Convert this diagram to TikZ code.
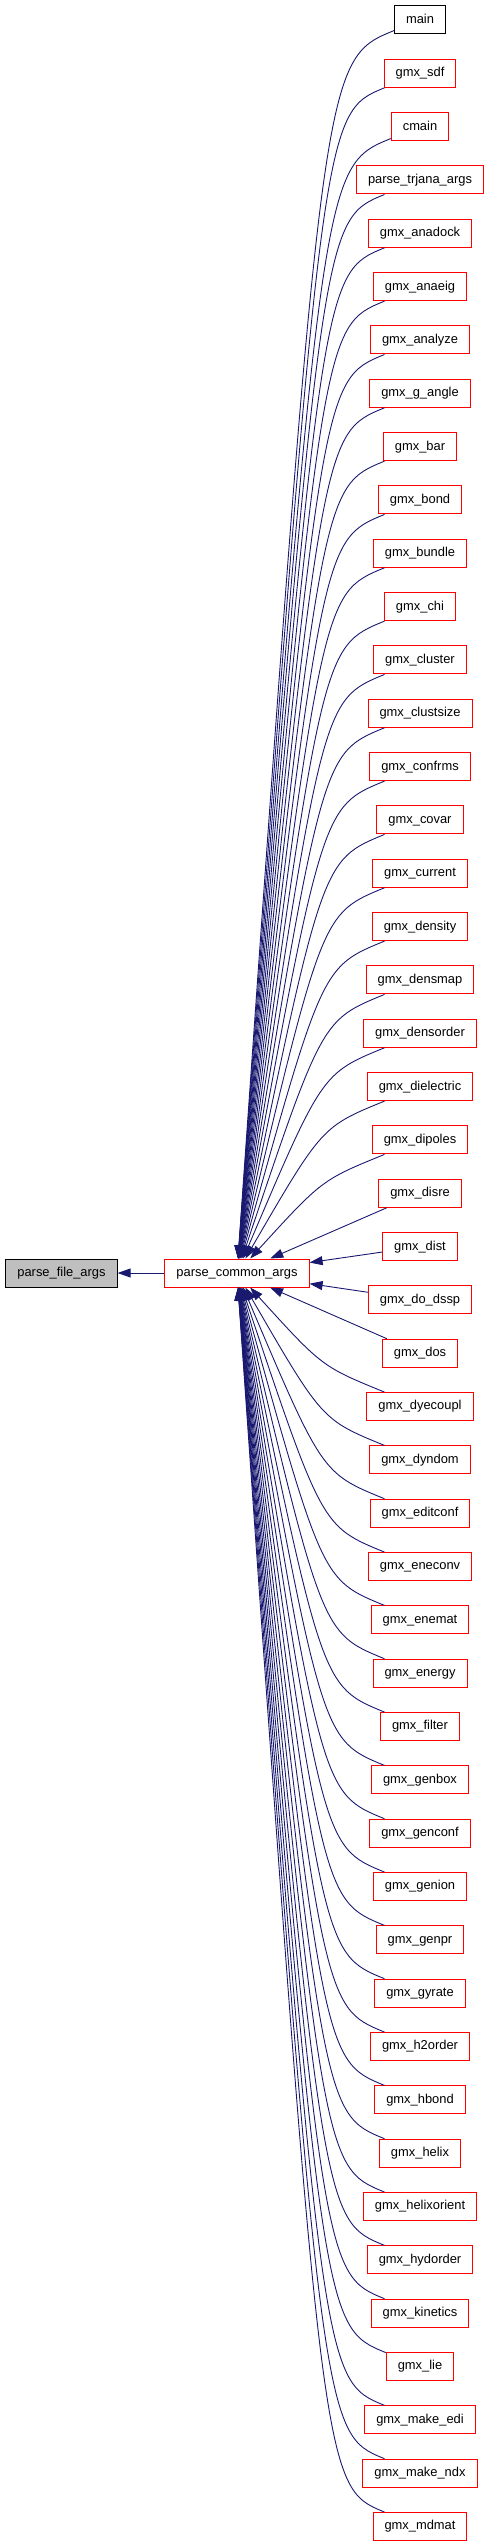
\documentclass[tikz,border=0pt]{standalone}
\usepackage{fontspec}
\setmainfont{Liberation Sans}
\usepackage{xcolor}
\usepackage{tikz}
\usetikzlibrary{arrows.meta,calc}
\definecolor{cgblue}{HTML}{191970}
\definecolor{cgred}{HTML}{FF0000}
\definecolor{cggray}{HTML}{BFBFBF}

\begin{document}
\begin{tikzpicture}[x=1pt,y=-1pt,
    font=\fontsize{12.9}{15}\selectfont,
    fn/.style={draw=cgred,fill=white,line width=1pt,minimum height=28pt,
               inner xsep=11.5pt,inner ysep=0pt,text height=9.6pt,text depth=2.8pt},
    edge/.style={draw=cgblue,line width=0.9pt,-{Triangle[length=13pt,width=9pt]}}]
      \useasboundingbox (0,0) rectangle (488,2547);
      % the function and its caller
      \node[fn,draw=black,fill=cggray] (pfa) at (61.5,1273) {parse\_file\_args};
      \node[fn] (pca) at (237,1273) {parse\_common\_args};
      % callers of parse_common_args
      \node[fn,draw=black] (f1) at (420,20) {main};
      \foreach \txt [count=\i from 2] in {gmx\_sdf, cmain, parse\_trjana\_args,
          gmx\_anadock, gmx\_anaeig, gmx\_analyze, gmx\_g\_angle, gmx\_bar,
          gmx\_bond, gmx\_bundle, gmx\_chi, gmx\_cluster, gmx\_clustsize,
          gmx\_confrms, gmx\_covar, gmx\_current, gmx\_density, gmx\_densmap,
          gmx\_densorder, gmx\_dielectric, gmx\_dipoles, gmx\_disre, gmx\_dist,
          gmx\_do\_dssp, gmx\_dos, gmx\_dyecoupl, gmx\_dyndom, gmx\_editconf,
          gmx\_eneconv, gmx\_enemat, gmx\_energy, gmx\_filter, gmx\_genbox,
          gmx\_genconf, gmx\_genion, gmx\_genpr, gmx\_gyrate, gmx\_h2order,
          gmx\_hbond, gmx\_helix, gmx\_helixorient, gmx\_hydorder,
          gmx\_kinetics, gmx\_lie, gmx\_make\_edi, gmx\_make\_ndx, gmx\_mdmat}
        \node[fn] (f\i) at (420,{20+53.33*(\i-1)}) {\txt};
      % edges
      \draw[edge] (pca) -- (pfa);
      \foreach \i in {1,...,48}{
        \pgfmathsetmacro\yy{20+53.33*(\i-1)}
        \pgfmathsetmacro\dd{1273-\yy}
        \pgfmathsetmacro\off{sign(\dd)*min(40,0.3*abs(\dd))}
        \pgfmathsetmacro\yc{\yy+(\off)}
        \pgfmathtruncatemacro\near{abs(\dd)<100}
        \ifnum\near=1
          \draw[edge] (f\i) -- (pca);
        \else
          \draw[edge] (f\i) .. controls (322,\yc) .. (pca);
        \fi
      }
    \end{tikzpicture}
\end{document}
